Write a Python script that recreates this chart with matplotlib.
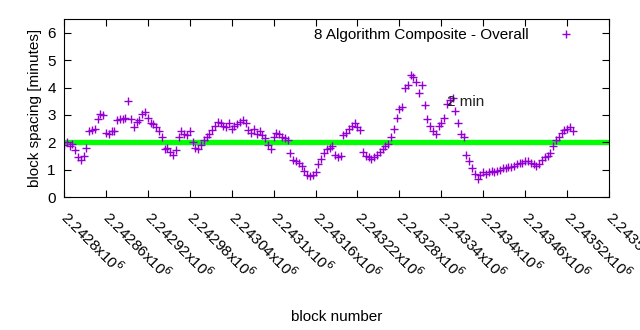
import numpy as np
import matplotlib
matplotlib.use("Agg")
import matplotlib.pyplot as plt

plt.rcParams['font.family'] = ['Liberation Sans', 'DejaVu Sans']

# block spacing (minutes), one reading every 4 blocks starting at block 2242800
first_block = 2242800
block_step = 4
spacing = [
    1.9, 2.0, 1.85, 1.95, 1.7, 1.45, 1.35, 1.5, 1.8, 2.4,
    2.45, 2.5, 2.85, 3.05, 3.0, 2.35, 2.3, 2.4, 2.4, 2.8,
    2.85, 2.85, 2.9, 3.5, 2.85, 2.55, 2.75, 2.8, 3.05, 3.1,
    2.9, 2.7, 2.65, 2.55, 2.4, 2.2, 1.75, 1.8, 1.65, 1.55,
    1.7, 2.2, 2.4, 2.3, 2.25, 2.4, 2.0, 1.8, 1.75, 1.9,
    2.1, 2.2, 2.3, 2.45, 2.6, 2.75, 2.7, 2.6, 2.55, 2.7,
    2.5, 2.6, 2.65, 2.75, 2.8, 2.7, 2.45, 2.35, 2.5, 2.3,
    2.4, 2.25, 2.15, 1.9, 1.75, 2.2, 2.35, 2.3, 2.2, 2.15,
    2.1, 1.6, 1.35, 1.3, 1.25, 1.15, 0.95, 0.8, 0.75, 0.8,
    0.9, 1.2, 1.4, 1.6, 1.75, 1.8, 1.85, 1.55, 1.45, 1.5,
    2.25, 2.35, 2.5, 2.6, 2.7, 2.55, 2.45, 1.65, 1.5, 1.45,
    1.4, 1.45, 1.55, 1.65, 1.75, 1.85, 1.95, 2.2, 2.5, 2.9,
    3.2, 3.3, 4.0, 4.1, 4.45, 4.4, 4.2, 3.8, 4.1, 3.35,
    2.85, 2.6, 2.4, 2.3, 2.6, 2.7, 2.9, 3.4, 3.55, 3.6,
    3.15, 2.7, 2.3, 2.2, 1.55, 1.3, 1.05, 0.85, 0.65, 0.8,
    0.9, 0.85, 0.9, 0.95, 0.9, 0.95, 1.0, 1.05, 1.05, 1.1,
    1.1, 1.15, 1.2, 1.25, 1.25, 1.3, 1.3, 1.25, 1.2, 1.15,
    1.2, 1.35, 1.45, 1.5, 1.6, 1.85, 2.1, 2.2, 2.35, 2.45,
    2.5, 2.55, 2.4,
]
blocks = first_block + block_step * np.arange(len(spacing))

target = 2.0
x_ticks = [2242800, 2242860, 2242920, 2242980, 2243040, 2243100, 2243160,
           2243220, 2243280, 2243340, 2243400, 2243460, 2243520, 2243580]
y_ticks = [0, 1, 2, 3, 4, 5, 6]

fig = plt.figure(figsize=(6.4, 3.3), dpi=100)
ax = fig.add_axes([0.1, 0.403, 0.8516, 0.539])

ax.plot([x_ticks[0], x_ticks[-1]], [target, target], color='#00ff00', lw=3.8, zorder=1)
ax.plot(blocks, spacing, linestyle='none', marker='+', color='#9400d3',
        markersize=6, markeredgewidth=1.0, label='8 Algorithm Composite - Overall', zorder=2)
ax.text(2243348, 3.47, '2 min', fontsize=11, ha='left', va='center', color='#222222', zorder=3)

ax.set_xlim(x_ticks[0], x_ticks[-1])
ax.set_ylim(0, 6.5)
ax.set_xticks(x_ticks)
ax.set_xticklabels([f"{v/1e6:.6g}x10$^{{6}}$" for v in x_ticks], rotation=-45,
                   ha='left', va='center', rotation_mode='anchor', fontsize=11)
ax.set_yticks(y_ticks)
ax.tick_params(axis='both', direction='in', top=True, right=True, length=5, labelsize=11)
ax.tick_params(axis='x', pad=12)
ax.tick_params(axis='y', pad=6)
ax.set_ylabel('block spacing [minutes]', fontsize=11)
ax.set_xlabel('block number', fontsize=11, labelpad=20)

ax.legend(loc='upper right', frameon=False, markerfirst=False, fontsize=11,
          bbox_to_anchor=(0.975, 1.025), handletextpad=1.5)

fig.savefig('out.png', dpi=100)
